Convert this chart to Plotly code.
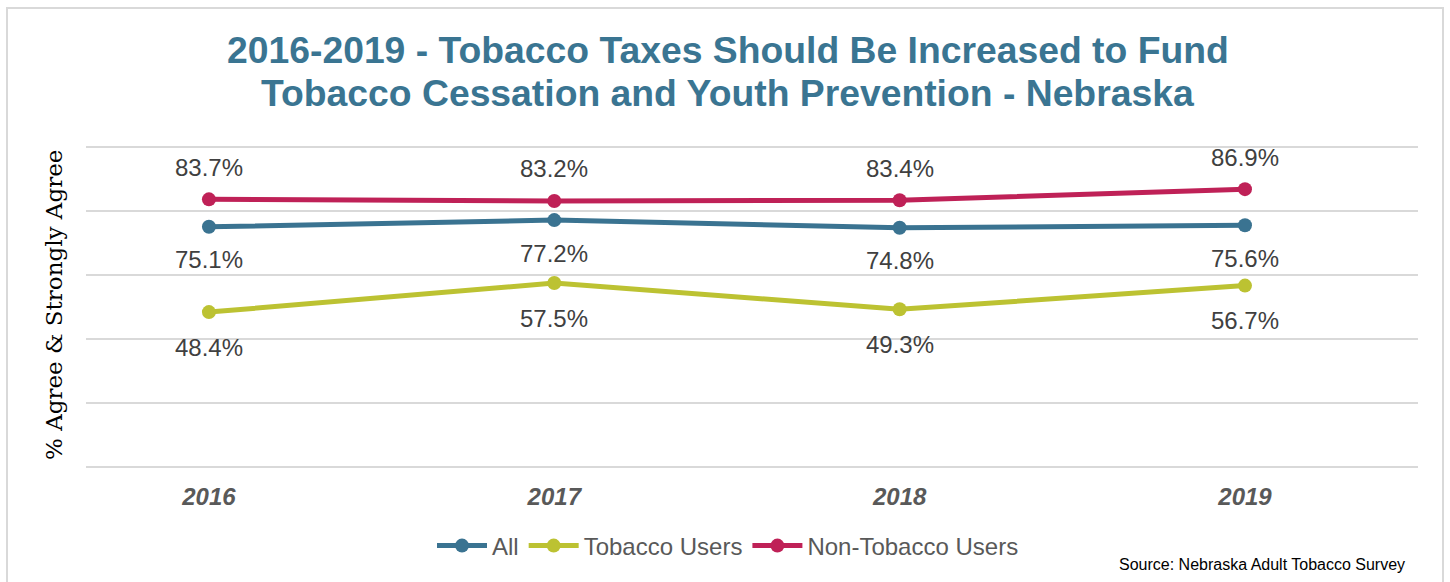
import plotly.graph_objects as go

years = [2016, 2017, 2018, 2019]
all_vals = [75.1, 77.2, 74.8, 75.6]
tobacco_vals = [48.4, 57.5, 49.3, 56.7]
non_tobacco_vals = [83.7, 83.2, 83.4, 86.9]
tick_labels = ["2016", "2017", "2018", "2019"]
title_lines = ["2016-2019 - Tobacco Taxes Should Be Increased to Fund",
               "Tobacco Cessation and Youth Prevention - Nebraska"]

W, H = 1450, 582
ML, MR, MT, MB = 86, 32, 146, 114
PW, PH = W - ML - MR, H - MT - MB


def px_x(x):
    return (x - ML) / PW


def px_y(y):
    return (H - MB - y) / PH


series = [
    ("All", all_vals, "#3A7391", -33),
    ("Tobacco Users", tobacco_vals, "#BCC232", -35),
    ("Non-Tobacco Users", non_tobacco_vals, "#BF2157", 32),
]

fig = go.Figure()
annotations = []
for name, vals, color, shift in series:
    fig.add_trace(go.Scatter(
        x=years, y=vals, name=name, mode="lines+markers",
        line=dict(color=color, width=5),
        marker=dict(color=color, size=14),
    ))
    for x, v in zip(years, vals):
        annotations.append(dict(
            x=x, y=v, xref="x", yref="y", text=f"{v:.1f}%", showarrow=False,
            yshift=shift, font=dict(family="Liberation Sans, Arial", size=24, color="#404040"),
        ))

for line, ypx in zip(title_lines, [50, 93]):
    annotations.append(dict(
        xref="paper", yref="paper", x=px_x(727.5), y=px_y(ypx), text=line,
        showarrow=False, xanchor="center", yanchor="middle",
        font=dict(family="Liberation Sans, Arial", size=37.3, color="#3A7592", weight="bold"),
    ))

annotations.append(dict(
    xref="paper", yref="paper", x=px_x(54), y=px_y(305), text="% Agree & Strongly Agree",
    textangle=-90, showarrow=False, xanchor="center", yanchor="middle",
    font=dict(family="DejaVu Serif, Georgia, serif", size=23, color="#000000"),
))
annotations.append(dict(
    xref="paper", yref="paper", x=px_x(1407), y=px_y(564),
    text="Source: Nebraska Adult Tobacco Survey", showarrow=False,
    xanchor="right", yanchor="middle",
    font=dict(family="Liberation Sans, Arial", size=16, color="#000000"),
))

fig.update_layout(
    width=W, height=H,
    margin=dict(l=ML, r=MR, t=MT, b=MB),
    paper_bgcolor="white", plot_bgcolor="white",
    xaxis=dict(
        range=[2015.644, 2019.501], tickvals=years, ticktext=tick_labels,
        showgrid=False, zeroline=False, showline=False,
        ticklabelstandoff=12,
        tickfont=dict(family="Liberation Sans, Arial", size=24, color="#595959",
                      weight="bold", style="italic"),
    ),
    yaxis=dict(
        range=[-0.4, 100.4], tickvals=[0, 20, 40, 60, 80, 100], showticklabels=False,
        showgrid=True, gridcolor="#D9D9D9", gridwidth=2, zeroline=False, showline=False,
    ),
    legend=dict(
        orientation="h", x=px_x(728), xanchor="center", y=px_y(546), yanchor="middle",
        font=dict(family="Liberation Sans, Arial", size=24, color="#595959"),
        itemwidth=50, tracegroupgap=0,
    ),
    annotations=annotations,
    shapes=[dict(
        type="rect", xref="paper", yref="paper",
        x0=px_x(7), x1=px_x(1443), y0=px_y(592), y1=px_y(8),
        line=dict(color="#D9D9D9", width=2), fillcolor="rgba(0,0,0,0)", layer="below",
    )],
)

fig.write_html("out.html", config={"displayModeBar": False},
               post_script="document.body.style.margin='0';")
